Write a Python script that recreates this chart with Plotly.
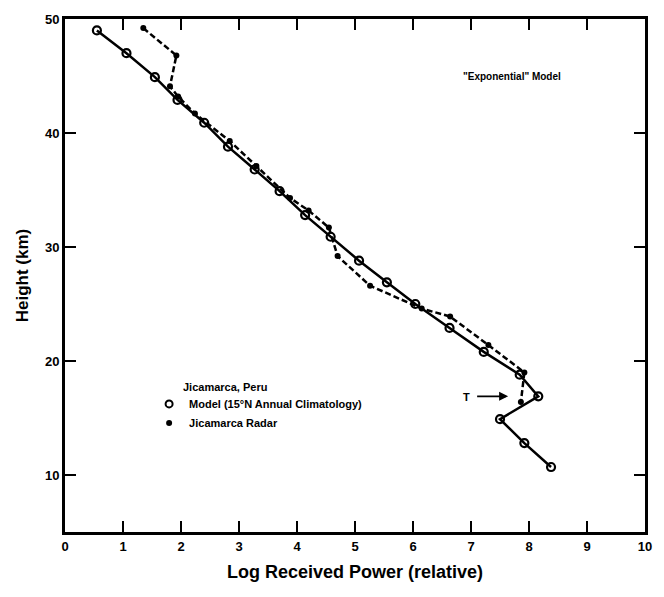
import plotly.graph_objects as go

# Model profile (15°N annual climatology): log received power vs height
model_power = [0.55, 1.06, 1.55, 1.94, 2.40, 2.81, 3.27, 3.70, 4.14, 4.58,
               5.07, 5.55, 6.04, 6.63, 7.22, 7.84, 8.16, 7.50, 7.92, 8.38]
model_height = [49.0, 47.0, 44.9, 42.9, 40.9, 38.8, 36.8, 34.9, 32.8, 30.9,
                28.8, 26.9, 25.0, 22.9, 20.8, 18.8, 16.9, 14.9, 12.8, 10.7]

# Jicamarca radar observations
radar_power = [1.35, 1.92, 1.81, 1.95, 2.24, 2.84, 3.30, 3.88, 4.20, 4.55,
               4.70, 5.26, 6.15, 6.64, 7.30, 7.92, 7.86]
radar_height = [49.2, 46.8, 44.1, 43.2, 41.7, 39.3, 37.1, 34.3, 33.2, 31.7,
                29.2, 26.6, 24.6, 23.9, 21.4, 19.0, 16.4]

x_ticks = list(range(0, 11))
y_ticks = [10, 20, 30, 40, 50]

FONT = "Liberation Sans"

fig = go.Figure()

fig.add_trace(go.Scatter(
    x=model_power, y=model_height, mode="lines+markers",
    line=dict(color="black", width=2.5),
    marker=dict(symbol="circle-open", size=8, color="black",
                line=dict(width=2.2, color="black")),
    showlegend=False,
))
fig.add_trace(go.Scatter(
    x=radar_power, y=radar_height, mode="lines+markers",
    line=dict(color="black", width=2.5, dash="6px,3px"),
    marker=dict(symbol="circle", size=6, color="black"),
    showlegend=False,
))

# marker-only legend entries
fig.add_trace(go.Scatter(
    x=[None], y=[None], mode="markers",
    name="Model (15°N Annual Climatology)",
    marker=dict(symbol="circle-open", size=7, color="black",
                line=dict(width=2, color="black")),
))
fig.add_trace(go.Scatter(
    x=[None], y=[None], mode="markers", name="Jicamarca Radar",
    marker=dict(symbol="circle", size=6, color="black"),
))

axis_common = dict(
    showline=True, linecolor="black", linewidth=3, mirror="allticks",
    ticks="inside", ticklen=11, tickwidth=2, tickcolor="black",
    showgrid=False, zeroline=False,
    tickfont=dict(family=FONT, size=13, color="black", weight="bold"),
)

fig.update_xaxes(
    range=[0, 10], tickvals=x_ticks, ticktext=[str(v) for v in x_ticks],
    title=dict(text="Log Received Power (relative)", standoff=13,
               font=dict(family=FONT, size=18, color="black", weight="bold")),
    **axis_common,
)
fig.update_yaxes(
    range=[5, 50], tickvals=y_ticks, ticktext=[str(v) for v in y_ticks],
    title=dict(text="Height (km)", standoff=12,
               font=dict(family=FONT, size=17, color="black", weight="bold")),
    **axis_common,
)

fig.add_annotation(
    x=7.7, y=45.0, text='"Exponential" Model', showarrow=False,
    font=dict(family=FONT, size=10, color="black", weight="bold"),
)
fig.add_annotation(
    x=2.0, y=17.7, text="Jicamarca, Peru", showarrow=False, xanchor="left",
    font=dict(family=FONT, size=11, color="black", weight="bold"),
)
fig.add_annotation(
    x=6.93, y=16.85, text="T", showarrow=False,
    font=dict(family=FONT, size=11, color="black", weight="bold"),
)
fig.add_annotation(
    x=7.64, y=16.9, ax=7.08, ay=16.9, axref="x", ayref="y",
    text="", showarrow=True, arrowhead=2, arrowsize=1, arrowwidth=1.8,
    arrowcolor="black",
)

fig.update_layout(
    width=664, height=597,
    margin=dict(l=65, r=12, t=14, b=65),
    paper_bgcolor="white", plot_bgcolor="white",
    legend=dict(
        x=0.145, y=0.278, xanchor="left", yanchor="top",
        bgcolor="rgba(0,0,0,0)", itemwidth=30, tracegroupgap=0,
        font=dict(family=FONT, size=11, color="black", weight="bold"),
    ),
)

fig.write_html("out.html")
